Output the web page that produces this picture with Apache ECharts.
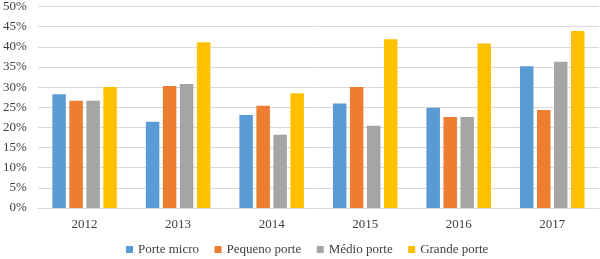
<!DOCTYPE html>
<html>
<head>
<meta charset="utf-8">
<script src="https://cdn.jsdelivr.net/npm/echarts@6/dist/echarts.min.js"></script>
<style>
  html, body { margin: 0; padding: 0; background: #fff; }
  #chart { width: 600px; height: 259px; }
</style>
</head>
<body>
<div id="chart"></div>
<script>
  const years = ['2012', '2013', '2014', '2015', '2016', '2017'];
  const porteMicro = [28.2, 21.4, 23.1, 25.9, 24.9, 35.2];
  const pequenoPorte = [26.6, 30.3, 25.4, 30.0, 22.6, 24.3];
  const medioPorte = [26.6, 30.8, 18.2, 20.4, 22.6, 36.3];
  const grandePorte = [30.0, 41.1, 28.5, 41.9, 40.8, 43.9];
  const seriesNames = ['Porte micro', 'Pequeno porte', 'Médio porte', 'Grande porte'];
  const colors = ['#5B9BD5', '#ED7D31', '#A5A5A5', '#FFC000'];

  const font = '"Liberation Serif", "DejaVu Serif", serif';
  const chart = echarts.init(document.getElementById('chart'));

  const bar = (name, data, i) => ({
    name: name,
    type: 'bar',
    data: data,
    barWidth: 13.5,
    barGap: '26%',
    itemStyle: { color: colors[i] }
  });

  chart.setOption({
    animation: false,
    grid: { left: 35, right: 1, top: 5, bottom: 51 },
    legend: {
      top: 241,
      left: 121,
      padding: [2, 5],
      itemWidth: 7,
      itemHeight: 7,
      itemGap: 15.5,
      icon: 'rect',
      textStyle: { fontFamily: font, fontSize: 13, color: '#404040' },
      data: seriesNames
    },
    xAxis: {
      type: 'category',
      data: years,
      axisLine: { lineStyle: { color: '#d9d9d9' } },
      axisTick: { show: false },
      axisLabel: { fontFamily: font, fontSize: 13, color: '#404040', margin: 10 }
    },
    yAxis: {
      type: 'value',
      min: 0,
      max: 50,
      interval: 5,
      axisLine: { show: false },
      axisTick: { show: false },
      splitLine: { lineStyle: { color: '#d9d9d9' } },
      axisLabel: { fontFamily: font, fontSize: 13, color: '#404040', formatter: '{value}%', margin: 11 }
    },
    series: [
      bar(seriesNames[0], porteMicro, 0),
      bar(seriesNames[1], pequenoPorte, 1),
      bar(seriesNames[2], medioPorte, 2),
      bar(seriesNames[3], grandePorte, 3)
    ]
  });
</script>
</body>
</html>
